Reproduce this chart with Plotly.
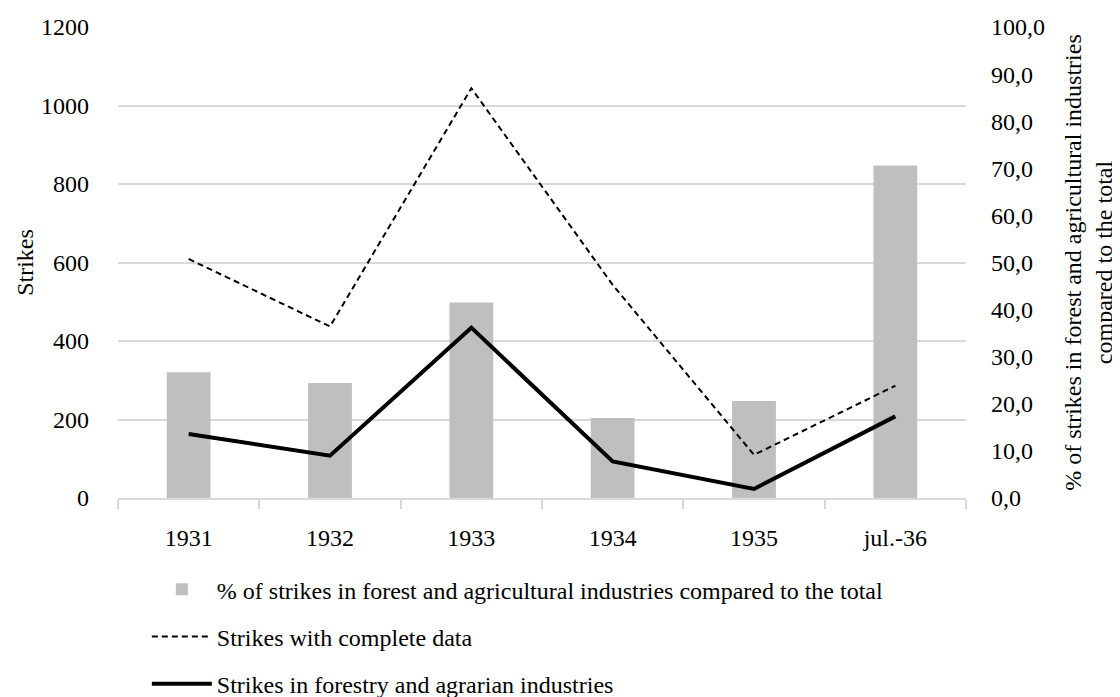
import plotly.graph_objects as go

categories = ["1931", "1932", "1933", "1934", "1935", "jul.-36"]
pct_forest_agri = [26.7, 24.4, 41.5, 17.0, 20.6, 70.6]
strikes_complete = [609, 437, 1044, 543, 110, 286]
strikes_forestry = [163, 108, 434, 93, 23, 208]

left_ticks = [0, 200, 400, 600, 800, 1000, 1200]
right_ticks = [0, 10, 20, 30, 40, 50, 60, 70, 80, 90, 100]

FONT = "Liberation Serif"
FS = 24

fig = go.Figure()
fig.add_trace(go.Bar(
    x=categories, y=pct_forest_agri, yaxis="y", width=0.31,
    marker=dict(color="#bfbfbf", line=dict(width=0)),
    name="% of strikes in forest and agricultural industries compared to the total",
    legendgroup="a",
))
fig.add_trace(go.Scatter(
    x=categories, y=strikes_complete, yaxis="y2", mode="lines",
    line=dict(color="black", width=2, dash="6px,4px"),
    name="Strikes with complete data", legendgroup="b",
))
fig.add_trace(go.Scatter(
    x=categories, y=strikes_forestry, yaxis="y2", mode="lines",
    line=dict(color="black", width=4),
    name="Strikes in forestry and agrarian industries", legendgroup="c",
))

fig.update_layout(
    width=1112, height=689,
    margin=dict(l=110, r=154, t=19, b=199, autoexpand=False),
    paper_bgcolor="white", plot_bgcolor="white",
    font=dict(family=FONT, size=FS, color="black"),
    separators=",.",
    xaxis=dict(
        type="category", showgrid=False, showline=True, linecolor="#d9d9d9",
        linewidth=1.5, ticks="outside", tickson="boundaries", ticklen=9,
        tickcolor="#d9d9d9", tickwidth=1.5, ticklabelstandoff=17,
        tickfont=dict(family=FONT, size=FS), automargin=False,
    ),
    yaxis=dict(
        side="right", range=[0, 100], tickvals=right_ticks, tickformat=".1f",
        showgrid=False, zeroline=False, showline=False, ticks="",
        ticklabelstandoff=24, automargin=False,
        title=dict(text="% of strikes in forest and agricultural industries<br>compared to the total",
                   font=dict(family=FONT, size=FS), standoff=20),
    ),
    yaxis2=dict(
        side="left", overlaying="y", range=[0, 1200], tickvals=left_ticks,
        showgrid=True, gridcolor="#d9d9d9", gridwidth=1.5, zeroline=False,
        showline=False, ticks="", ticklabelstandoff=28, automargin=False,
        title=dict(text="Strikes", font=dict(family=FONT, size=FS), standoff=0),
    ),
    legend=dict(
        orientation="v", x=0.034, xanchor="left", y=-0.147, yanchor="top",
        traceorder="grouped", tracegroupgap=13, itemwidth=60,
        font=dict(family=FONT, size=FS), bgcolor="rgba(0,0,0,0)",
    ),
    showlegend=True,
)

fig.write_html("out.html")
